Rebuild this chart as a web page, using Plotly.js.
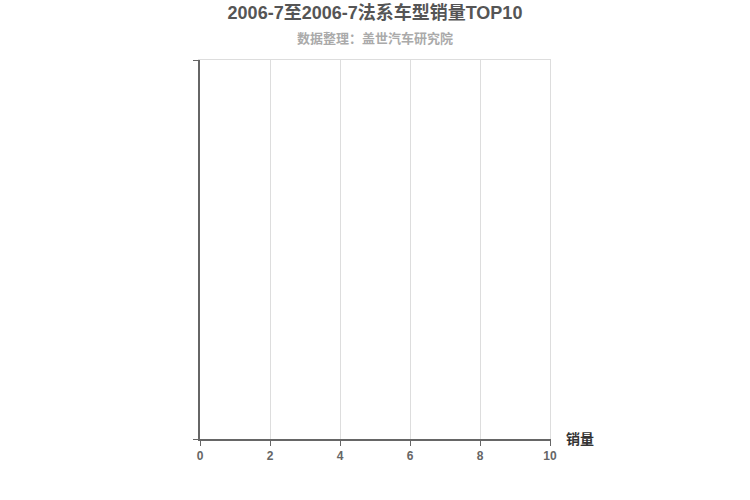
<!DOCTYPE html>
<html>
<head>
<meta charset="utf-8">
<script src="https://cdn.plot.ly/plotly-3.0.1.min.js"></script>
<style>
  html, body { margin: 0; padding: 0; background: #fff; }
  #chart { width: 750px; height: 500px; }
</style>
</head>
<body>
<div id="chart"></div>
<script>
// 这个月份没有数据，所以图是空的
const chartTitle = '2006-7至2006-7法系车型销量TOP10';
const subTitle = '数据整理：盖世汽车研究院';
const models = [];
const sales = [];
const xTicks = [0, 2, 4, 6, 8, 10];

const fontFamily = '"Liberation Sans", Arial, "Noto Sans CJK SC", sans-serif';

const trace = {
  type: 'bar',
  orientation: 'h',
  x: sales,
  y: models,
  marker: { color: '#c23531' },
  hoverinfo: 'x+y'
};

// 空的辅助 trace，只为了画出上边和右边的浅色边框
const frame = {
  type: 'scatter',
  x: [],
  y: [],
  xaxis: 'x2',
  yaxis: 'y2',
  hoverinfo: 'skip'
};

const layout = {
  width: 750,
  height: 500,
  margin: { l: 200, r: 200, t: 60, b: 61 },
  paper_bgcolor: '#fff',
  plot_bgcolor: '#fff',
  font: { family: fontFamily, color: '#666' },
  showlegend: false,
  title: {
    text: '<b>' + chartTitle + '</b>',
    font: { size: 18, color: '#555', family: fontFamily },
    x: 0.5,
    xanchor: 'center',
    y: 0.974,
    yanchor: 'middle'
  },
  xaxis: {
    range: [0, 10],
    tickvals: xTicks,
    ticktext: xTicks.map(v => '<b>' + v + '</b>'),
    tickfont: { size: 12, color: '#666' },
    showgrid: true,
    gridcolor: '#ddd',
    gridwidth: 1,
    zeroline: false,
    showline: true,
    linecolor: '#666',
    linewidth: 2,
    ticks: 'outside',
    ticklen: 5,
    tickcolor: '#666',
    fixedrange: true
  },
  yaxis: {
    range: [0, 1],
    tickvals: [0, 1],
    showticklabels: false,
    showgrid: false,
    zeroline: false,
    showline: true,
    linecolor: '#666',
    linewidth: 2,
    ticks: 'outside',
    ticklen: 5,
    tickcolor: '#666',
    fixedrange: true
  },
  xaxis2: {
    overlaying: 'x',
    side: 'top',
    range: [0, 1],
    showline: true,
    linecolor: '#ddd',
    linewidth: 1,
    showgrid: false,
    zeroline: false,
    showticklabels: false,
    ticks: '',
    fixedrange: true
  },
  yaxis2: {
    overlaying: 'y',
    side: 'right',
    range: [0, 1],
    showline: true,
    linecolor: '#ddd',
    linewidth: 1,
    showgrid: false,
    zeroline: false,
    showticklabels: false,
    ticks: '',
    fixedrange: true
  },
  annotations: [
    {
      text: '<b>' + subTitle + '</b>',
      xref: 'paper', yref: 'paper',
      x: 0.5, y: 1 + 22 / 379,
      xanchor: 'center', yanchor: 'middle',
      showarrow: false,
      font: { size: 13, color: '#aaa', family: fontFamily }
    },
    {
      text: '<b>销量</b>',
      xref: 'paper', yref: 'paper',
      x: 1, y: 0,
      xanchor: 'left', yanchor: 'middle',
      xshift: 14,
      showarrow: false,
      font: { size: 14, color: '#333', family: fontFamily }
    }
  ]
};

Plotly.newPlot('chart', [trace, frame], layout, { displayModeBar: false, responsive: false });
</script>
</body>
</html>
